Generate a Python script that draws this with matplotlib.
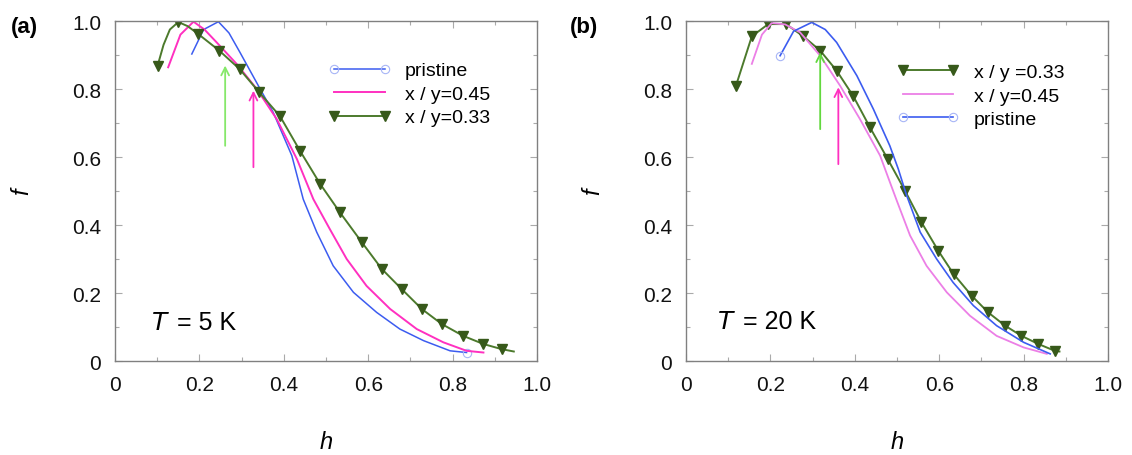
import matplotlib.pyplot as plt
from matplotlib.ticker import MultipleLocator

plt.rcParams['font.family'] = ['Liberation Sans', 'DejaVu Sans']

# ---- panel (a), T = 5 K ----
a_green_h = [0.101, 0.115, 0.130, 0.150, 0.172, 0.197, 0.247, 0.295, 0.342, 0.391, 0.438,
             0.486, 0.533, 0.585, 0.632, 0.679, 0.727, 0.774, 0.825, 0.873, 0.916, 0.945]
a_green_f = [0.869, 0.930, 0.975, 0.997, 0.985, 0.962, 0.913, 0.859, 0.790, 0.720, 0.619,
             0.521, 0.437, 0.349, 0.271, 0.212, 0.153, 0.109, 0.074, 0.050, 0.035, 0.028]
a_green_marks = [0, 3] + list(range(5, 21))
a_blue_h = [0.182, 0.210, 0.245, 0.270, 0.296, 0.344, 0.375, 0.419, 0.446, 0.478, 0.517,
            0.565, 0.620, 0.675, 0.731, 0.794, 0.833]
a_blue_f = [0.903, 0.975, 0.998, 0.965, 0.908, 0.800, 0.731, 0.604, 0.476, 0.379, 0.280,
            0.202, 0.143, 0.094, 0.060, 0.030, 0.025]
a_pink_h = [0.126, 0.155, 0.186, 0.212, 0.241, 0.288, 0.336, 0.383, 0.431, 0.470, 0.509,
            0.549, 0.596, 0.652, 0.715, 0.778, 0.833, 0.873]
a_pink_f = [0.864, 0.960, 0.998, 0.975, 0.937, 0.874, 0.800, 0.712, 0.594, 0.476, 0.388,
            0.300, 0.221, 0.153, 0.094, 0.055, 0.030, 0.025]
a_arrow_x = [0.261, 0.328]
a_arrow_tail = [0.633, 0.57]
a_arrow_tip = [0.869, 0.795]

# ---- panel (b), T = 20 K ----
b_green_h = [0.118, 0.156, 0.195, 0.237, 0.278, 0.318, 0.357, 0.396, 0.436, 0.478,
             0.519, 0.558, 0.598, 0.634, 0.677, 0.716, 0.756, 0.795, 0.835, 0.874, 0.885]
b_green_f = [0.808, 0.955, 0.991, 0.991, 0.955, 0.913, 0.854, 0.780, 0.687, 0.594,
             0.501, 0.408, 0.324, 0.256, 0.192, 0.143, 0.104, 0.074, 0.050, 0.030, 0.028]
b_blue_h = [0.223, 0.255, 0.298, 0.330, 0.357, 0.405, 0.444, 0.483, 0.503, 0.522, 0.555,
            0.594, 0.633, 0.681, 0.736, 0.800, 0.863]
b_blue_f = [0.898, 0.970, 0.996, 0.975, 0.937, 0.839, 0.741, 0.633, 0.565, 0.490, 0.379,
            0.300, 0.231, 0.163, 0.104, 0.055, 0.021]
b_pink_h = [0.156, 0.180, 0.203, 0.235, 0.270, 0.318, 0.365, 0.412, 0.460, 0.482, 0.500,
            0.531, 0.570, 0.618, 0.673, 0.736, 0.800, 0.855]
b_pink_f = [0.874, 0.960, 0.994, 0.990, 0.967, 0.898, 0.810, 0.712, 0.604, 0.530, 0.470,
            0.369, 0.280, 0.202, 0.133, 0.074, 0.040, 0.021]
b_arrow_x = [0.318, 0.361]
b_arrow_tail = [0.682, 0.579]
b_arrow_tip = [0.908, 0.805]

lbl_pristine = 'pristine'
lbl_045 = 'x / y=0.45'
lbl_033_a = 'x / y=0.33'
lbl_033_b = 'x / y =0.33'

GREEN = '#4c7a2c'
GREEN_M = '#37591a'
BLUE = '#3c5cf0'
PINK_A = '#ff30c0'
PINK_B = '#ec7fe6'
FRAME = '#808080'

fig = plt.figure(figsize=(11.32, 4.56), dpi=100)
ax_a = fig.add_axes([0.1016, 0.2061, 0.3728, 0.7456])
ax_b = fig.add_axes([0.6060, 0.2061, 0.3728, 0.7456])


def style(ax):
    ax.set_xlim(0, 1.0)
    ax.set_ylim(0, 1.0)
    ax.xaxis.set_minor_locator(MultipleLocator(0.1))
    ax.yaxis.set_minor_locator(MultipleLocator(0.1))
    ax.set_xticks([0, 0.2, 0.4, 0.6, 0.8, 1.0])
    ax.set_xticklabels(['0', '0.2', '0.4', '0.6', '0.8', '1.0'])
    ax.set_yticks([0, 0.2, 0.4, 0.6, 0.8, 1.0])
    ax.set_yticklabels(['0', '0.2', '0.4', '0.6', '0.8', '1.0'])
    ax.tick_params(which='both', direction='in', top=True, right=True,
                   color='#aaaaaa', width=0.8)
    ax.tick_params(which='major', length=5, labelsize=15, pad=10, labelcolor='#111111')
    ax.tick_params(which='minor', length=3)
    for s in ax.spines.values():
        s.set_color(FRAME)
        s.set_linewidth(1.0)
    ax.set_xlabel('h', fontsize=17, style='italic', labelpad=26)
    ax.set_ylabel('f', fontsize=17, style='italic', labelpad=28)


# panel (a)
ax_a.plot(a_blue_h, a_blue_f, color=BLUE, lw=1.1, marker='o', ms=6, mfc='none',
          mec='#a8b6f6', mew=0.8, markevery=[16], label=lbl_pristine)
ax_a.plot(a_pink_h, a_pink_f, color=PINK_A, lw=1.4, label=lbl_045)
ax_a.plot(a_green_h, a_green_f, color=GREEN, lw=1.4, marker='v', ms=6.5, mfc=GREEN_M,
          mec=GREEN_M, markevery=a_green_marks, label=lbl_033_a)
for x, t0, t1, c in zip(a_arrow_x, a_arrow_tail, a_arrow_tip, ['#86e86a', PINK_A]):
    ax_a.annotate('', xy=(x, t1), xytext=(x, t0),
                  arrowprops=dict(arrowstyle='->', color=c, lw=1.3,
                                  shrinkA=0, shrinkB=0, mutation_scale=14))
style(ax_a)
ax_a.legend(loc='upper left', bbox_to_anchor=(0.505, 0.88), frameon=False, fontsize=14,
            handlelength=3.2, handletextpad=0.75, labelspacing=0.3, numpoints=2,
            borderpad=0, borderaxespad=0)
ax_a.text(0.085, 0.115, '$T$', fontsize=18, transform=ax_a.transAxes, va='center')
ax_a.text(0.148, 0.115, '= 5 K', fontsize=18, transform=ax_a.transAxes, va='center')

# panel (b)
ax_b.plot(b_green_h, b_green_f, color=GREEN, lw=1.4, marker='v', ms=6.5, mfc=GREEN_M,
          mec=GREEN_M, markevery=list(range(20)), label=lbl_033_b)
ax_b.plot(b_pink_h, b_pink_f, color=PINK_B, lw=1.3, label=lbl_045)
ax_b.plot(b_blue_h, b_blue_f, color=BLUE, lw=1.2, marker='o', ms=6, mfc='none',
          mec='#a8b6f6', mew=0.8, markevery=[0], label=lbl_pristine)
for x, t0, t1, c in zip(b_arrow_x, b_arrow_tail, b_arrow_tip, ['#62d83e', PINK_A]):
    ax_b.annotate('', xy=(x, t1), xytext=(x, t0),
                  arrowprops=dict(arrowstyle='->', color=c, lw=1.3,
                                  shrinkA=0, shrinkB=0, mutation_scale=14))
style(ax_b)
ax_b.legend(loc='upper left', bbox_to_anchor=(0.5, 0.875), frameon=False, fontsize=14,
            handlelength=3.2, handletextpad=0.75, labelspacing=0.3, numpoints=2,
            borderpad=0, borderaxespad=0)
ax_b.text(0.073, 0.118, '$T$', fontsize=18, transform=ax_b.transAxes, va='center')
ax_b.text(0.136, 0.118, '= 20 K', fontsize=18, transform=ax_b.transAxes, va='center')

fig.text(0.010, 0.94, '(a)', fontsize=16, fontweight='bold', va='center')
fig.text(0.503, 0.94, '(b)', fontsize=16, fontweight='bold', va='center')

fig.savefig('out.png', dpi=100)
